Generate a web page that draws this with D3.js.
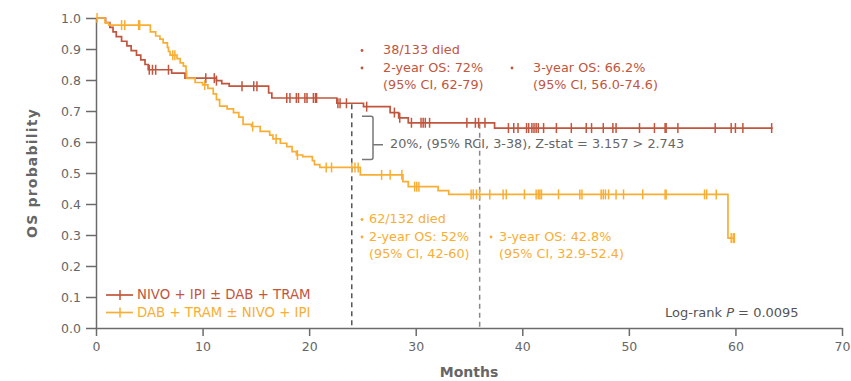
<!DOCTYPE html>
<html>
<head>
<meta charset="utf-8">
<script src="https://cdn.jsdelivr.net/npm/d3@7"></script>
<style>
  html, body { margin: 0; padding: 0; background: #fff; }
  svg { display: block; font-family: "DejaVu Sans", Verdana, sans-serif; }
</style>
</head>
<body>
<svg id="chart" width="851" height="381"></svg>
<script>
// Kaplan–Meier overall survival, two treatment sequences.
// Each step: [month of event, survival probability after the event].
const nivoSteps = [
  [0.9, 0.985], [1.3, 0.97], [1.6, 0.955], [1.9, 0.94], [2.4, 0.925], [2.9, 0.91],
  [3.3, 0.895], [3.8, 0.88], [4.2, 0.865], [4.6, 0.85], [4.9, 0.833], [7.1, 0.822],
  [8.35, 0.806], [11.3, 0.798], [11.8, 0.788], [12.5, 0.78], [16.2, 0.758],
  [16.5, 0.742], [22.6, 0.725], [25.1, 0.714], [27.6, 0.695], [28.4, 0.678],
  [29.3, 0.662], [37.4, 0.645]
];
const nivoEnd = 63.5;
const nivoCensor = [
  5.0, 5.3, 5.6, 6.8, 10.3, 11.1, 11.3, 13.7, 14.8, 15.1, 17.9, 18.2, 18.8, 19.0,
  19.6, 19.8, 20.4, 20.6, 20.7, 22.7, 22.9, 23.5, 25.4, 28.0, 28.5, 29.6, 30.5,
  30.7, 30.9, 31.3, 34.8, 35.6, 35.9, 36.5, 38.7, 39.2, 39.6, 40.4, 40.6, 40.9,
  41.1, 41.3, 41.5, 42.0, 43.2, 44.6, 46.0, 46.5, 47.6, 48.5, 48.8, 51.0, 52.4,
  53.4, 53.5, 54.6, 58.1, 59.6, 60.0, 60.7, 63.4
];

const dabSteps = [
  [0.85, 0.985], [1.2, 0.977], [5.1, 0.955], [5.6, 0.942], [6.0, 0.932], [6.3, 0.92],
  [6.7, 0.905], [6.8, 0.892], [6.95, 0.88], [7.6, 0.869], [7.9, 0.855], [8.2, 0.845],
  [8.45, 0.828], [8.5, 0.805], [9.3, 0.792], [10.0, 0.784], [10.5, 0.773],
  [11.0, 0.755], [11.3, 0.737], [11.6, 0.716], [12.3, 0.707], [12.9, 0.695],
  [13.4, 0.68], [13.8, 0.657], [14.6, 0.65], [15.4, 0.634], [16.3, 0.622],
  [16.6, 0.61], [17.3, 0.596], [17.9, 0.585], [18.4, 0.569], [18.8, 0.558],
  [19.4, 0.553], [20.3, 0.54], [20.5, 0.527], [21.0, 0.518], [24.8, 0.494],
  [28.8, 0.472], [29.3, 0.456], [32.1, 0.443], [33.1, 0.431], [59.3, 0.29]
];
const dabEnd = 59.95;
const dabCensor = [
  0.1, 2.4, 2.7, 4.0, 4.1, 7.2, 7.4, 10.2, 14.7, 16.9, 18.9, 21.6, 22.1, 24.0,
  24.3, 24.6, 26.8, 27.6, 28.7, 29.9, 30.1, 30.3, 35.2, 35.4, 35.7, 36.0, 36.95,
  38.2, 38.5, 40.2, 41.3, 41.5, 41.65, 41.8, 43.4, 45.4, 45.6, 47.4, 47.6, 47.8,
  48.1, 48.8, 49.5, 51.3, 53.4, 53.5, 57.1, 57.3, 58.2, 59.6, 59.8, 59.9
];

const seriesNames = ["NIVO + IPI ± DAB + TRAM", "DAB + TRAM ± NIVO + IPI"];
const seriesColors = ["#c1553d", "#f9ae33"];
const xTicks = [0, 10, 20, 30, 40, 50, 60, 70];
const yTicks = [0, 0.1, 0.2, 0.3, 0.4, 0.5, 0.6, 0.7, 0.8, 0.9, 1.0];
const landmarks = [24, 36];

const nivoNotes = ["38/133  died", "2-year OS: 72%", "(95% CI, 62-79)", "3-year OS: 66.2%", "(95% CI, 56.0-74.6)"];
const dabNotes = ["62/132  died", "2-year OS: 52%", "(95% CI, 42-60)", "3-year OS: 42.8%", "(95% CI, 32.9-52.4)"];
const diffNote = "20%, (95% RCI, 3-38), Z-stat = 3.157 > 2.743";

const svg = d3.select("#chart");
const x = d3.scaleLinear().domain([0, 70]).range([96, 842]);
const y = d3.scaleLinear().domain([0, 1]).range([328, 18]);
const axisGray = "#6b6b6b";

// survival at time t from a step list
function survAt(steps, t) {
  let s = 1;
  for (const [tt, v] of steps) { if (tt <= t) s = v; else break; }
  return s;
}

// axes
const yAxis = svg.append("g").attr("transform", `translate(${x(0)},0)`)
  .call(d3.axisLeft(y).tickValues(yTicks).tickFormat(d3.format(".1f")).tickSize(10).tickSizeOuter(0).tickPadding(5));
const xAxis = svg.append("g").attr("transform", `translate(0,${y(0)})`)
  .call(d3.axisBottom(x).tickValues(xTicks).tickSize(8).tickSizeOuter(0).tickPadding(6));
[yAxis, xAxis].forEach(g => {
  g.select(".domain").attr("stroke", axisGray).attr("stroke-width", 1.5);
  g.selectAll(".tick line").attr("stroke", axisGray).attr("stroke-width", 1.5);
  g.selectAll(".tick text").attr("fill", "#666").style("font-size", "12.5px").style("font-family", "DejaVu Sans");
});

svg.append("text").attr("transform", `translate(33,${(y(0) + y(1)) / 2}) rotate(-90)`)
  .attr("text-anchor", "middle").attr("dominant-baseline", "middle")
  .attr("fill", "#666").style("font-size", "14px").style("font-weight", "bold")
  .style("letter-spacing", "1.2px")
  .text("OS probability");
svg.append("text").attr("x", 469).attr("y", 373)
  .attr("text-anchor", "middle").attr("dominant-baseline", "middle")
  .attr("fill", "#666").style("font-size", "14px").style("font-weight", "bold")
  .text("Months");

// landmark lines at 2 and 3 years
const landmarkColors = ["#555", "#888"];
landmarks.forEach((m, i) => {
  svg.append("line")
    .attr("x1", x(m)).attr("x2", x(m))
    .attr("y1", y(survAt(nivoSteps, m)) + 1).attr("y2", y(0))
    .attr("stroke", landmarkColors[i]).attr("stroke-width", 1.5)
    .attr("stroke-dasharray", "5,4");
});

// survival curves
const line = d3.line().x(d => x(d[0])).y(d => y(d[1])).curve(d3.curveStepAfter);
function curvePoints(steps, end) {
  const pts = [[0, 1], ...steps];
  pts.push([end, steps[steps.length - 1][1]]);
  return pts;
}
const curves = [
  { steps: nivoSteps, end: nivoEnd, censor: nivoCensor, color: seriesColors[0] },
  { steps: dabSteps, end: dabEnd, censor: dabCensor, color: seriesColors[1] }
];
curves.forEach(c => {
  svg.append("path").datum(curvePoints(c.steps, c.end))
    .attr("d", line).attr("fill", "none")
    .attr("stroke", c.color).attr("stroke-width", 1.7);
  svg.append("g").selectAll("line").data(c.censor).join("line")
    .attr("x1", d => x(d)).attr("x2", d => x(d))
    .attr("y1", d => y(survAt(c.steps, d)) - 5)
    .attr("y2", d => y(survAt(c.steps, d)) + 5)
    .attr("stroke", c.color).attr("stroke-width", 1.5);
});

// bracket for the 2-year difference
const bTop = y(survAt(nivoSteps, 24)) + 13, bBot = y(survAt(dabSteps, 24)) - 8;
const bMid = (bTop + bBot) / 2 + 7;
svg.append("path")
  .attr("d", `M362,${bTop} H371 Q373,${bTop} 373,${bTop + 2} V${bBot - 2} Q373,${bBot} 371,${bBot} H362 M373,${bMid} H383`)
  .attr("fill", "none").attr("stroke", "#777").attr("stroke-width", 1.5);
svg.append("text").attr("x", 390).attr("y", bMid).attr("dominant-baseline", "middle")
  .attr("fill", "#666").style("font-size", "12.8px").text(diffNote);

// annotation blocks
function noteBlock(notes, color, bx, tx, bx2, tx2, y0, dy) {
  const g = svg.append("g").attr("fill", color).style("font-size", "12.8px");
  const rows = [
    { bullet: bx, x: tx, y: y0, t: notes[0] },
    { bullet: bx, x: tx, y: y0 + dy, t: notes[1] },
    { bullet: null, x: tx, y: y0 + 2 * dy, t: notes[2] },
    { bullet: bx2, x: tx2, y: y0 + dy, t: notes[3] },
    { bullet: null, x: tx2, y: y0 + 2 * dy, t: notes[4] }
  ];
  rows.forEach(r => {
    if (r.bullet !== null) g.append("circle").attr("cx", r.bullet).attr("cy", r.y).attr("r", 1.4);
    g.append("text").attr("x", r.x).attr("y", r.y).attr("dominant-baseline", "middle").text(r.t);
  });
}
noteBlock(nivoNotes, seriesColors[0], 362, 383, 512, 533, 50.5, 17.5);
noteBlock(dabNotes, seriesColors[1], 362, 369, 491, 499, 219.5, 17.5);

// legend
seriesNames.forEach((name, i) => {
  const ly = 295 + i * 17.5;
  const g = svg.append("g");
  g.append("line").attr("x1", 106).attr("x2", 133).attr("y1", ly).attr("y2", ly)
    .attr("stroke", seriesColors[i]).attr("stroke-width", 1.7);
  g.append("line").attr("x1", 120).attr("x2", 120).attr("y1", ly - 5).attr("y2", ly + 5)
    .attr("stroke", seriesColors[i]).attr("stroke-width", 1.5);
  g.append("text").attr("x", 137).attr("y", ly).attr("dominant-baseline", "middle")
    .attr("fill", seriesColors[i]).style("font-size", "13.3px").text(name);
});

// log-rank test result
const lr = svg.append("text").attr("x", 665).attr("y", 313).attr("dominant-baseline", "middle")
  .attr("fill", "#555").style("font-size", "13px");
lr.append("tspan").text("Log-rank ");
lr.append("tspan").style("font-style", "italic").text("P");
lr.append("tspan").text(" = 0.0095");
</script>
</body>
</html>
